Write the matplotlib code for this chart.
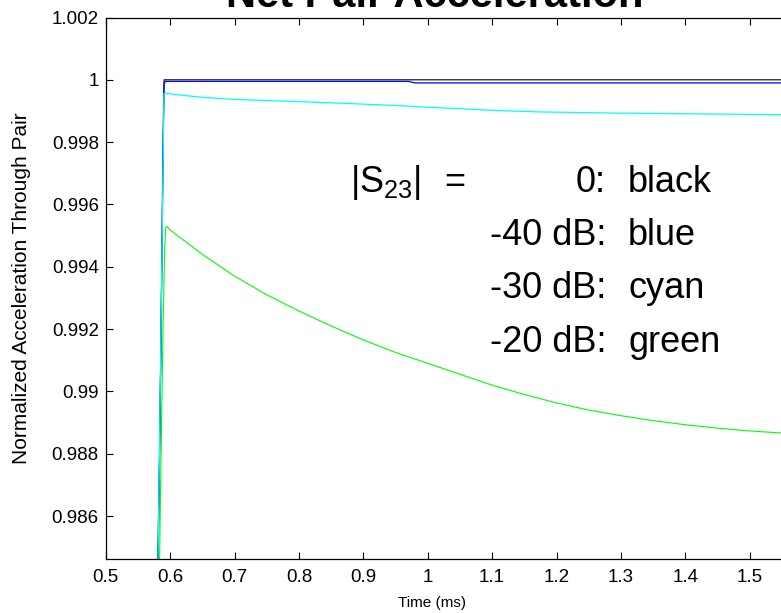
import matplotlib
matplotlib.use("Agg")
import matplotlib.pyplot as plt
from matplotlib.ticker import FixedLocator, FixedFormatter

plt.rcParams['font.family'] = ['Liberation Sans', 'DejaVu Sans']
plt.rcParams['mathtext.fontset'] = 'custom'
plt.rcParams['mathtext.rm'] = 'Liberation Sans'
plt.rcParams['mathtext.it'] = 'Liberation Sans'
plt.rcParams['mathtext.default'] = 'regular'

# ---- data (time in ms, normalized acceleration) ----
black_t = [0.5815, 0.5906, 1.60]
black_y = [0.9844, 1.0000, 1.0000]

blue_t = [0.5805, 0.5830, 0.5855, 0.5875, 0.5890, 0.5905, 0.5926, 0.9700, 0.9800, 1.60]
blue_y = [0.9844, 0.9870, 0.9910, 0.9950, 0.9980, 0.99985, 0.99995, 0.99995, 0.99990, 0.99990]

cyan_t = [0.5812, 0.5905, 0.5915, 0.62, 0.65, 0.70, 0.80, 0.90, 0.957, 1.00,
          1.113, 1.174, 1.30, 1.45, 1.60]
cyan_y = [0.9844, 0.99955, 0.99957, 0.99950, 0.99944, 0.99937, 0.99930, 0.99922,
          0.99917, 0.99912, 0.99901, 0.99897, 0.99893, 0.99890, 0.99887]

green_t = [0.5835, 0.5860, 0.5890, 0.5915, 0.5930, 0.595, 0.60, 0.65, 0.70, 0.75,
           0.80, 0.85, 0.90, 0.95, 1.00, 1.05, 1.10, 1.15, 1.20, 1.25, 1.30, 1.35,
           1.40, 1.45, 1.50, 1.56, 1.60]
green_y = [0.9844, 0.9880, 0.9920, 0.9945, 0.99525, 0.99530, 0.99518, 0.99440,
           0.99370, 0.99310, 0.99258, 0.99210, 0.99165, 0.99125, 0.99090, 0.99055,
           0.99020, 0.98990, 0.98963, 0.98940, 0.98922, 0.98906, 0.98893, 0.98882,
           0.98873, 0.98865, 0.98860]

x_ticks = [0.5, 0.6, 0.7, 0.8, 0.9, 1.0, 1.1, 1.2, 1.3, 1.4, 1.5]
x_tick_labels = ['0.5', '0.6', '0.7', '0.8', '0.9', '1', '1.1', '1.2', '1.3', '1.4', '1.5']
y_ticks = [0.986, 0.988, 0.990, 0.992, 0.994, 0.996, 0.998, 1.000, 1.002]
y_tick_labels = ['0.986', '0.988', '0.99', '0.992', '0.994', '0.996', '0.998', '1', '1.002']

legend_levels = ['0:', '-40 dB:', '-30 dB:', '-20 dB:']
legend_names = ['black', 'blue', 'cyan', 'green']

W, H = 781, 613
fig = plt.figure(figsize=(W / 100, H / 100), dpi=100)
x0, x1 = 105.7, 105.7 + 644 * 1.1
ytop, ybot = 17.5, 559
ax = fig.add_axes([x0 / W, (H - ybot) / H, (x1 - x0) / W, (ybot - ytop) / H])

ax.plot(black_t, black_y, color='black', lw=0.8)
ax.plot(blue_t, blue_y, color='#0000ff', lw=0.9)
ax.plot(cyan_t, cyan_y, color='#00ffff', lw=0.9)
ax.plot(green_t, green_y, color='#00ff00', lw=0.8)

ax.set_xlim(0.5, 1.6)
ax.set_ylim(0.98462, 1.002)
ax.xaxis.set_major_locator(FixedLocator(x_ticks))
ax.xaxis.set_major_formatter(FixedFormatter(x_tick_labels))
ax.yaxis.set_major_locator(FixedLocator(y_ticks))
ax.yaxis.set_major_formatter(FixedFormatter(y_tick_labels))
ax.tick_params(direction='in', length=5, width=0.8, labelsize=13.5, top=True, right=True,
               color='black')
ax.tick_params(axis='y', pad=5)
ax.tick_params(axis='x', pad=7)
for s in ax.spines.values():
    s.set_linewidth(0.9)

fig.text(435 / W, 1 - 7.3 / H, 'Net Pair Acceleration', ha='center', va='baseline',
         fontsize=30, fontweight='bold')
fig.text(432 / W, 1 - 603 / H, 'Time (ms)', ha='center', va='center', fontsize=11)
fig.text(22 / W, 1 - 288 / H, 'Normalized Acceleration Through Pair', ha='center',
         va='center', rotation=90, fontsize=15)

fs = 26
fig.text(350 / W, 1 - 191.7 / H, r'|S$_{23}$|', ha='left', va='baseline', fontsize=fs)
fig.text(444 / W, 1 - 191.7 / H, '=', ha='left', va='baseline', fontsize=fs)
baselines = [191.7, 245, 298, 351.7]
for lev, name, b in zip(legend_levels, legend_names, baselines):
    fig.text(606 / W, 1 - b / H, lev, ha='right', va='baseline', fontsize=fs)
    fig.text(628 / W, 1 - b / H, name, ha='left', va='baseline', fontsize=fs)

fig.savefig('out.png', dpi=100)
